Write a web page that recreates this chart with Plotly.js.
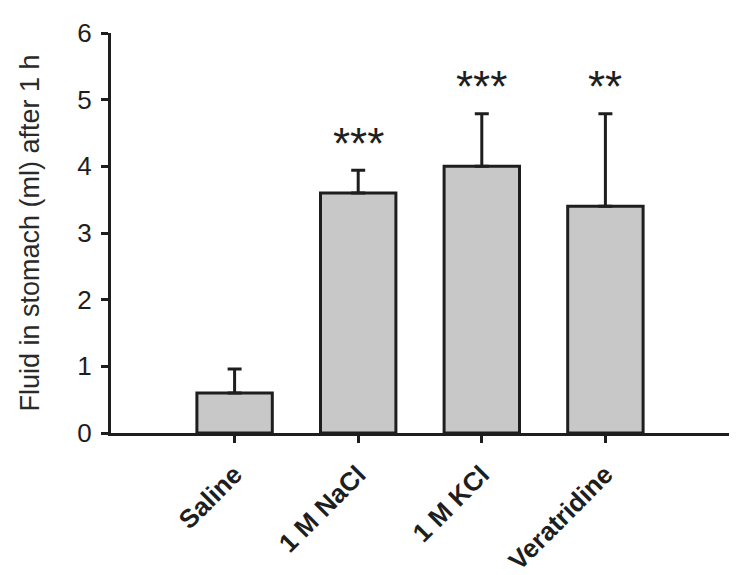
<!DOCTYPE html>
<html>
<head>
<meta charset="utf-8">
<script src="https://cdn.plot.ly/plotly-3.0.1.min.js"></script>
<style>html,body{margin:0;padding:0;background:#fff;}#chart{width:750px;height:575px;}</style>
</head>
<body>
<div id="chart"></div>
<script>
const categories = ["Saline", "1 M NaCl", "1 M KCl", "Veratridine"];
const meanValues = [0.6, 3.6, 4.0, 3.4];
const semValues = [0.36, 0.34, 0.79, 1.39];
const significance = ["", "***", "***", "**"];
const yTicks = [0, 1, 2, 3, 4, 5, 6];

const ink = "#1e1e1e";
const fam = "Liberation Sans, Arial, Helvetica, sans-serif";

const trace = {
  type: "bar",
  x: categories,
  y: meanValues,
  width: 0.61,
  marker: { color: "#c8c8c8", line: { color: ink, width: 3 } },
  error_y: {
    type: "data", symmetric: false,
    array: semValues,
    arrayminus: semValues.map(() => 0),
    color: ink, thickness: 3, width: 7
  },
  hoverinfo: "none"
};

const annotations = categories.map((c, i) => ({
  x: c, y: meanValues[i] + semValues[i],
  text: significance[i], showarrow: false,
  xanchor: "center", yanchor: "middle", yshift: 27,
  font: { family: fam, size: 44, color: ink }
})).filter(a => a.text);

const layout = {
  width: 750, height: 575,
  margin: { l: 111, r: 21, t: 33, b: 142 },
  paper_bgcolor: "#fff", plot_bgcolor: "#fff",
  showlegend: false,
  font: { family: fam, color: ink },
  xaxis: {
    type: "category", range: [-1, 4],
    showline: true, linewidth: 3, linecolor: ink,
    ticks: "outside", ticklen: 7, tickwidth: 3, tickcolor: ink,
    tickangle: -45, ticklabelstandoff: 6,
    tickfont: { family: fam, size: 26, color: ink, weight: "bold" },
    showgrid: false, zeroline: false
  },
  yaxis: {
    range: [0, 6], tickvals: yTicks, ticktext: yTicks.map(String),
    showline: true, linewidth: 3, linecolor: ink,
    ticks: "outside", ticklen: 7, tickwidth: 3, tickcolor: ink,
    ticklabelstandoff: 4,
    tickfont: { family: fam, size: 26, color: ink },
    showgrid: false, zeroline: false,
    title: { text: "Fluid in stomach (ml) after 1 h", font: { family: fam, size: 27, color: "#2a2a2a" }, standoff: 30 }
  },
  annotations: annotations
};

Plotly.newPlot("chart", [trace], layout, { staticPlot: true, displayModeBar: false });
</script>
</body>
</html>
